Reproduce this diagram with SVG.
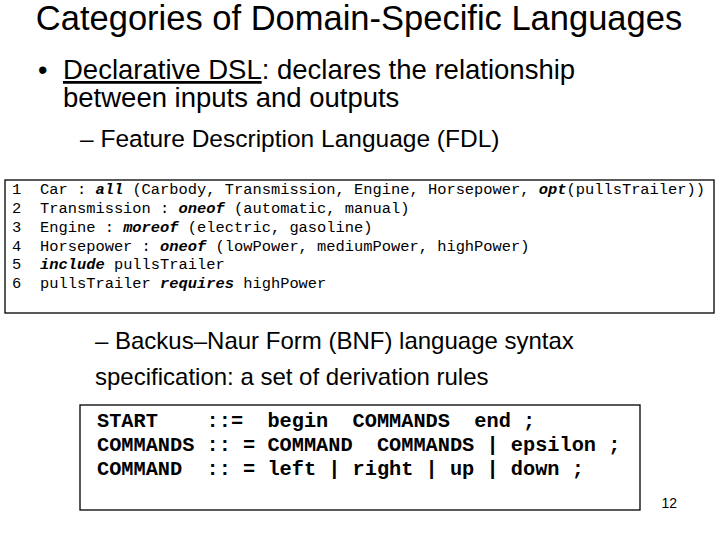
<svg xmlns="http://www.w3.org/2000/svg" width="720" height="540" viewBox="0 0 720 540">
<style>
.s{font-family:"Liberation Sans",Arial,sans-serif;fill:#000}
.m{font-family:"Liberation Mono","Courier New",monospace;font-size:15.4px;fill:#000;white-space:pre}
.b{font-weight:bold;font-style:italic}
.n{font-family:"Liberation Mono","Courier New",monospace;font-size:20.3px;font-weight:bold;fill:#000;white-space:pre}
.box{fill:#fff;stroke:#000;stroke-width:1.3}
</style>
<rect width="720" height="540" fill="#fff"/>
<text class="s" x="359" y="30" font-size="34.5" text-anchor="middle">Categories of Domain-Specific Languages</text>
<text class="s" x="38" y="79" font-size="27">•</text>
<text class="s" x="63" y="79" font-size="27.5"><tspan text-decoration="underline">Declarative DSL</tspan>: declares the relationship</text>
<text class="s" x="63" y="107" font-size="27.5">between inputs and outputs</text>
<text class="s" x="80" y="147" font-size="24.5">– Feature Description Language (FDL)</text>
<g id="fdl">
<rect class="box" x="5" y="180" width="709" height="133"/>
<text class="m" x="12" y="194">1<tspan x="12" y="213">2</tspan><tspan x="12" y="232">3</tspan><tspan x="12" y="251">4</tspan><tspan x="12" y="269">5</tspan><tspan x="12" y="288">6</tspan></text>
<text class="m" xml:space="preserve" x="40" y="194">Car : <tspan class="b">all</tspan> (Carbody, Transmission, Engine, Horsepower, <tspan class="b">opt</tspan>(pullsTrailer))</text>
<text class="m" xml:space="preserve" x="40" y="213">Transmission : <tspan class="b">oneof</tspan> (automatic, manual)</text>
<text class="m" xml:space="preserve" x="40" y="232">Engine : <tspan class="b">moreof</tspan> (electric, gasoline)</text>
<text class="m" xml:space="preserve" x="40" y="251">Horsepower : <tspan class="b">oneof</tspan> (lowPower, mediumPower, highPower)</text>
<text class="m" xml:space="preserve" x="40" y="269"><tspan class="b">include</tspan> pullsTrailer</text>
<text class="m" xml:space="preserve" x="40" y="288">pullsTrailer <tspan class="b">requires</tspan> highPower</text>
</g>
<text class="s" x="95" y="349" font-size="24">– Backus–Naur Form (BNF) language syntax</text>
<text class="s" x="95" y="385" font-size="24">specification: a set of derivation rules</text>
<g id="bnf">
<rect class="box" x="80" y="405" width="560" height="105"/>
<text class="n" xml:space="preserve" x="97" y="427">START    ::=  begin  COMMANDS  end ;</text>
<text class="n" xml:space="preserve" x="97" y="451">COMMANDS :: = COMMAND  COMMANDS | epsilon ;</text>
<text class="n" xml:space="preserve" x="97" y="475">COMMAND  :: = left | right | up | down ;</text>
</g>
<text class="s" x="677" y="508" font-size="14" text-anchor="end">12</text>
</svg>
